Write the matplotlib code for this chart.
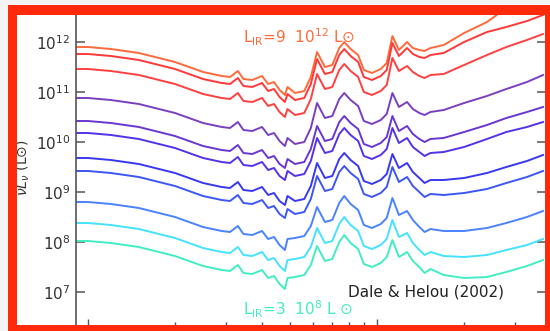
import numpy as np
import matplotlib.pyplot as plt
from matplotlib.patches import Rectangle
from matplotlib.ticker import NullLocator

# wavelength grid (micron)
wave = [0.91, 1.0, 1.2, 1.5, 2.0, 2.5, 2.9, 3.1, 3.3, 3.45, 3.7, 4.0, 4.2, 4.4, 4.6,
        4.8, 4.9, 5.2, 5.6, 5.9, 6.2, 6.6, 7.0, 7.4, 7.7, 8.1, 8.6, 9.0, 9.6, 10.3,
        10.8, 11.3, 11.9, 12.7, 13.3, 14.0, 14.6, 15.3, 17, 20, 24, 28, 33, 37.5]

# log10(nu L_nu / Lsun), from brightest (top) to faintest (bottom)
sed1 = [11.90, 11.90, 11.86, 11.78, 11.60, 11.40, 11.32, 11.30, 11.42, 11.26, 11.24, 11.32, 11.16, 11.20, 11.04,
        10.94, 11.10, 10.98, 11.02, 11.30, 11.80, 11.50, 11.54, 11.88, 12.00, 11.86, 11.74, 11.44, 11.38, 11.46,
        11.58, 12.12, 11.84, 12.00, 11.88, 11.84, 11.82, 11.88, 11.94, 12.18, 12.40, 12.68, 12.92, 13.12]
sed2 = [11.76, 11.76, 11.72, 11.64, 11.46, 11.26, 11.18, 11.16, 11.28, 11.12, 11.10, 11.18, 11.02, 11.06, 10.90,
        10.80, 10.96, 10.84, 10.88, 11.16, 11.66, 11.36, 11.40, 11.74, 11.86, 11.72, 11.60, 11.30, 11.24, 11.32,
        11.44, 11.98, 11.72, 11.88, 11.76, 11.70, 11.68, 11.74, 11.78, 12.00, 12.20, 12.30, 12.42, 12.54]
sed3 = [11.46, 11.46, 11.42, 11.34, 11.16, 10.96, 10.88, 10.86, 10.98, 10.82, 10.80, 10.88, 10.72, 10.76, 10.60,
        10.50, 10.66, 10.54, 10.58, 10.86, 11.36, 11.06, 11.10, 11.44, 11.56, 11.42, 11.30, 11.00, 10.94, 11.02,
        11.14, 11.68, 11.42, 11.52, 11.40, 11.32, 11.28, 11.34, 11.36, 11.54, 11.74, 11.90, 12.04, 12.16]
sed4 = [10.88, 10.88, 10.84, 10.76, 10.58, 10.38, 10.30, 10.28, 10.40, 10.24, 10.22, 10.30, 10.14, 10.18, 10.02,
        9.92, 10.08, 9.96, 10.00, 10.28, 10.78, 10.48, 10.52, 10.86, 10.98, 10.84, 10.72, 10.42, 10.36, 10.44,
        10.56, 10.98, 10.70, 10.80, 10.66, 10.58, 10.54, 10.60, 10.64, 10.78, 10.92, 11.06, 11.20, 11.34]
sed5 = [10.42, 10.42, 10.38, 10.30, 10.12, 9.92, 9.84, 9.82, 9.94, 9.78, 9.76, 9.84, 9.68, 9.72, 9.56,
        9.48, 9.66, 9.56, 9.60, 9.86, 10.32, 10.02, 10.06, 10.40, 10.52, 10.38, 10.26, 9.96, 9.90, 9.98,
        10.10, 10.52, 10.22, 10.32, 10.16, 10.06, 10.00, 10.06, 10.08, 10.20, 10.34, 10.48, 10.60, 10.70]
sed6 = [10.18, 10.18, 10.14, 10.06, 9.88, 9.68, 9.60, 9.58, 9.70, 9.54, 9.52, 9.60, 9.44, 9.48, 9.32,
        9.24, 9.42, 9.32, 9.36, 9.62, 10.08, 9.78, 9.82, 10.16, 10.28, 10.14, 10.02, 9.72, 9.66, 9.74,
        9.86, 10.28, 9.98, 10.08, 9.90, 9.80, 9.72, 9.78, 9.80, 9.90, 10.06, 10.20, 10.30, 10.40]
sed7 = [9.68, 9.68, 9.64, 9.56, 9.38, 9.18, 9.10, 9.08, 9.20, 9.04, 9.02, 9.10, 8.94, 8.98, 8.82,
        8.74, 8.92, 8.82, 8.86, 9.12, 9.58, 9.28, 9.32, 9.66, 9.78, 9.64, 9.52, 9.22, 9.16, 9.24,
        9.36, 9.76, 9.48, 9.58, 9.40, 9.28, 9.18, 9.24, 9.24, 9.28, 9.38, 9.50, 9.62, 9.74]
sed8 = [9.42, 9.42, 9.38, 9.30, 9.12, 8.92, 8.84, 8.82, 8.94, 8.78, 8.76, 8.84, 8.68, 8.72, 8.56,
        8.48, 8.66, 8.56, 8.60, 8.86, 9.32, 9.02, 9.06, 9.40, 9.52, 9.38, 9.26, 8.96, 8.90, 8.98,
        9.10, 9.50, 9.20, 9.30, 9.12, 9.00, 8.90, 8.96, 8.94, 8.98, 9.06, 9.18, 9.30, 9.42]
sed9 = [8.80, 8.80, 8.76, 8.68, 8.50, 8.30, 8.22, 8.20, 8.32, 8.16, 8.14, 8.22, 8.06, 8.10, 7.94,
        7.84, 8.06, 8.08, 8.12, 8.32, 8.70, 8.40, 8.44, 8.78, 8.92, 8.76, 8.64, 8.34, 8.28, 8.36,
        8.48, 8.88, 8.54, 8.62, 8.44, 8.30, 8.20, 8.26, 8.22, 8.22, 8.28, 8.38, 8.50, 8.62]
sed10 = [8.38, 8.38, 8.34, 8.26, 8.08, 7.88, 7.80, 7.78, 7.90, 7.74, 7.72, 7.80, 7.64, 7.68, 7.52,
         7.42, 7.64, 7.66, 7.70, 7.90, 8.28, 7.98, 8.02, 8.36, 8.50, 8.34, 8.22, 7.92, 7.86, 7.94,
         8.06, 8.44, 8.10, 8.18, 7.98, 7.84, 7.74, 7.80, 7.72, 7.70, 7.74, 7.84, 7.94, 8.06]
sed11 = [8.02, 8.02, 7.98, 7.90, 7.72, 7.52, 7.44, 7.42, 7.54, 7.38, 7.36, 7.44, 7.28, 7.32, 7.16,
         7.06, 7.28, 7.30, 7.34, 7.54, 7.92, 7.62, 7.66, 8.00, 8.14, 7.98, 7.86, 7.56, 7.50, 7.58,
         7.70, 8.04, 7.70, 7.80, 7.62, 7.50, 7.38, 7.46, 7.34, 7.28, 7.30, 7.40, 7.52, 7.64]

seds = [sed1, sed2, sed3, sed4, sed5, sed6, sed7, sed8, sed9, sed10, sed11]
colors = ["#ff6a3a", "#ff3838", "#ff4040", "#7a3fc0", "#6a36d2", "#5233ea",
          "#3838f4", "#3d56f6", "#4a82ff", "#45e2ff", "#42ecc4"]

ytick_vals = [1e7, 1e8, 1e9, 1e10, 1e11, 1e12]
ytick_labels = [r"10$^{7}$", r"10$^{8}$", r"10$^{9}$", r"10$^{10}$", r"10$^{11}$", r"10$^{12}$"]

W, H = 550, 331
def fx(px):
    return px / W
def fy(py):
    return 1 - py / H

fig = plt.figure(figsize=(5.5, 3.31), dpi=100)
fig.patch.set_facecolor("white")

ax = fig.add_axes([fx(76), fy(325), fx(546) - fx(76), fy(15) - fy(325)])
for s, c in zip(seds, colors):
    ax.plot(wave, 10 ** np.array(s), color=c, lw=1.4, solid_joinstyle="round")

ax.set_xscale("log")
ax.set_yscale("log")
ax.set_xlim(0.909, 38.4)
ax.set_ylim(10 ** 6.34, 10 ** 12.54)

ax.set_yticks(ytick_vals)
ax.set_yticklabels(ytick_labels)
ax.yaxis.set_minor_locator(NullLocator())
ax.tick_params(axis="y", which="major", direction="in", left=True, right=True,
               length=6.5, width=1.1, color="#555555", labelsize=11,
               labelcolor="#333333", pad=4)

ax.set_xticks([1, 10])
ax.set_xticks([2, 3, 4, 5, 6, 7, 8, 9, 20, 30], minor=True)
ax.tick_params(axis="x", which="major", direction="in", length=4.5, width=1,
               color="#555555", labelbottom=False)
ax.tick_params(axis="x", which="minor", direction="in", length=2.5, width=1,
               color="#555555", labelbottom=False)

ax.spines["left"].set_color("#555555")
ax.spines["left"].set_linewidth(1.2)
for sp in ["top", "right", "bottom"]:
    ax.spines[sp].set_visible(False)

fig.text(fx(23), fy(168), r"$\nu L_{\nu}$ (L$\odot$)", rotation=90, fontsize=10,
         color="#333333", ha="center", va="center")

fig.text(fx(243), fy(37), r"L$_{\rm IR}$=9  10$^{12}$ L$\odot$", fontsize=11,
         color="#ff6a3a", ha="left", va="center")
fig.text(fx(243), fy(309), r"L$_{\rm IR}$=3  10$^{8}$ L $\odot$", fontsize=11,
         color="#42ecc4", ha="left", va="center")
fig.text(fx(348), fy(292), "Dale & Helou (2002)", fontsize=11,
         color="#222222", ha="left", va="center")

# red frame around the picture
red = "#ff2a0a"
frame = [(0, 0, 8, H), (0, 0, W, 5),
         (8, 5, 9, H - 5), (8, 5, W - 8, 10), (545, 5, 5, H - 5), (8, 325, W - 8, 6)]
for i, (x0, y0, w, h) in enumerate(frame):
    col = "#f4f4f4" if i < 2 else red
    fig.add_artist(Rectangle((fx(x0), fy(y0 + h)), w / W, h / H,
                             transform=fig.transFigure, facecolor=col,
                             edgecolor="none", zorder=10))

fig.savefig("out.png", dpi=100)
